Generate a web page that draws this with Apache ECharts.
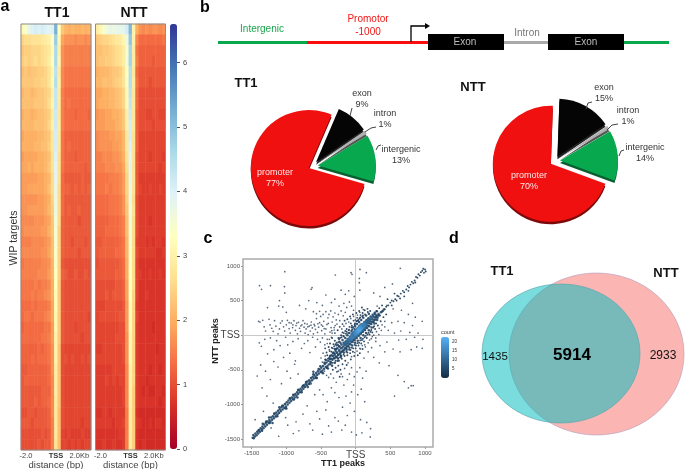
<!DOCTYPE html>
<html>
<head>
<meta charset="utf-8">
<style>html,body{margin:0;padding:0;background:#fff}#main{width:685px;height:469px}</style>
<script src="https://cdn.jsdelivr.net/npm/echarts@6/dist/echarts.min.js"></script>
</head>
<body>
<div id="main"></div>
<script>
// panel a: signal per row (top to bottom) and per 200bp bin (-2kb .. +2kb)
const tt1Rows = [
[3.2,3.4,3.8,4.0,4.1,4.0,4.1,4.0,3.9,4.0,5.2,3.3,2.3,2.1,2.0,2.1,2.0,2.0,2.1,2.0,2.1],
[2.5,2.6,2.6,2.7,2.7,2.7,2.8,2.9,3.0,3.4,4.8,3.1,1.9,1.7,1.7,1.7,1.6,1.7,1.7,1.6,1.7],
[2.3,2.4,2.4,2.5,2.5,2.5,2.6,2.7,2.8,3.2,4.6,3.0,1.7,1.5,1.5,1.5,1.5,1.5,1.5,1.5,1.5],
[2.4,2.5,2.4,2.5,2.6,2.5,2.6,2.7,2.9,3.3,4.6,3.1,1.7,1.5,1.5,1.5,1.5,1.5,1.5,1.5,1.5],
[2.2,2.3,2.2,2.3,2.3,2.4,2.4,2.5,2.7,3.1,4.4,2.9,1.6,1.4,1.4,1.4,1.4,1.4,1.4,1.4,1.4],
[2.3,2.3,2.3,2.3,2.4,2.4,2.5,2.5,2.7,3.2,4.5,3.0,1.6,1.4,1.4,1.4,1.4,1.4,1.4,1.4,1.4],
[2.1,2.2,2.2,2.1,2.2,2.3,2.3,2.4,2.5,3.0,4.3,2.9,1.5,1.3,1.3,1.3,1.3,1.3,1.3,1.3,1.3],
[2.2,2.2,2.2,2.2,2.3,2.3,2.3,2.4,2.6,3.1,4.3,2.9,1.5,1.3,1.4,1.3,1.3,1.3,1.3,1.3,1.3],
[2.0,2.1,2.1,2.0,2.1,2.2,2.2,2.3,2.4,2.9,4.2,2.8,1.5,1.3,1.3,1.3,1.2,1.3,1.3,1.3,1.2],
[2.1,2.1,2.1,2.1,2.2,2.2,2.2,2.3,2.5,3.0,4.2,2.9,1.5,1.3,1.3,1.3,1.3,1.3,1.3,1.3,1.3],
[1.9,2.0,2.0,2.0,2.0,2.1,2.1,2.2,2.3,2.8,4.1,2.8,1.4,1.2,1.2,1.2,1.2,1.2,1.2,1.2,1.2],
[2.0,2.0,2.0,2.0,2.1,2.1,2.2,2.2,2.4,2.8,4.1,2.8,1.4,1.2,1.3,1.2,1.2,1.2,1.2,1.2,1.2],
[1.8,1.9,1.9,1.9,1.9,2.0,2.0,2.1,2.2,2.7,4.0,2.7,1.4,1.2,1.2,1.2,1.1,1.2,1.2,1.2,1.2],
[1.9,1.9,2.0,1.9,2.0,2.0,2.0,2.1,2.3,2.7,3.9,2.7,1.4,1.2,1.2,1.2,1.2,1.2,1.2,1.1,1.2],
[1.8,1.8,1.8,1.8,1.8,1.9,1.9,2.0,2.1,2.6,3.9,2.7,1.3,1.1,1.1,1.1,1.1,1.1,1.2,1.1,1.1],
[1.8,1.8,1.9,1.9,1.9,1.9,1.9,2.0,2.2,2.6,3.8,2.6,1.3,1.2,1.2,1.1,1.2,1.1,1.2,1.1,1.2],
[1.7,1.7,1.7,1.7,1.7,1.8,1.8,1.9,2.0,2.5,3.7,2.6,1.3,1.1,1.1,1.1,1.1,1.1,1.1,1.1,1.1],
[1.7,1.7,1.8,1.8,1.8,1.8,1.8,1.9,2.1,2.4,3.7,2.6,1.3,1.1,1.2,1.1,1.1,1.2,1.1,1.1,1.1],
[1.6,1.6,1.6,1.6,1.7,1.7,1.7,1.8,1.9,2.3,3.6,2.6,1.2,1.1,1.1,1.1,1.1,1.0,1.1,1.1,1.1],
[1.6,1.7,1.7,1.7,1.7,1.7,1.8,1.8,2.0,2.3,3.5,2.5,1.2,1.1,1.1,1.1,1.1,1.1,1.1,1.1,1.1],
[1.5,1.5,1.5,1.6,1.6,1.6,1.6,1.7,1.8,2.2,3.5,2.5,1.2,1.1,1.1,1.0,1.1,1.1,1.1,1.0,1.1],
[1.6,1.6,1.6,1.6,1.6,1.6,1.7,1.7,1.9,2.2,3.4,2.5,1.2,1.1,1.1,1.1,1.1,1.0,1.1,1.1,1.1],
[1.4,1.5,1.5,1.5,1.5,1.5,1.6,1.6,1.7,2.1,3.4,2.5,1.1,1.0,1.0,1.0,1.0,1.0,1.0,1.0,1.0],
[1.5,1.5,1.5,1.5,1.5,1.6,1.6,1.6,1.8,2.1,3.3,2.5,1.2,1.1,1.0,1.0,1.1,1.0,1.0,1.1,1.0],
[1.4,1.4,1.4,1.4,1.5,1.4,1.5,1.5,1.6,2.0,3.3,2.4,1.1,1.0,1.0,1.0,1.0,1.0,1.0,1.0,1.0],
[1.4,1.4,1.4,1.5,1.4,1.5,1.5,1.6,1.7,2.0,3.2,2.4,1.1,1.0,1.0,1.0,1.0,1.0,1.0,1.0,1.0],
[1.3,1.3,1.3,1.4,1.3,1.4,1.4,1.4,1.5,1.9,3.2,2.4,1.1,1.0,1.0,1.0,1.0,1.0,1.0,1.0,1.0],
[1.3,1.4,1.4,1.3,1.4,1.4,1.4,1.5,1.6,1.9,3.1,2.4,1.1,1.0,1.0,1.0,1.0,1.0,1.0,1.0,0.9],
[1.2,1.3,1.3,1.3,1.3,1.3,1.3,1.4,1.4,1.8,3.1,2.4,1.1,1.0,1.0,1.0,0.9,1.0,1.0,1.0,1.0],
[1.3,1.3,1.3,1.3,1.3,1.3,1.4,1.4,1.5,1.8,3.0,2.4,1.1,1.0,1.0,1.0,1.0,1.0,0.9,1.0,1.0],
[1.2,1.2,1.2,1.2,1.2,1.3,1.2,1.3,1.4,1.7,3.0,2.3,1.0,0.9,0.9,0.9,0.9,0.9,0.9,0.9,0.9],
[1.2,1.2,1.2,1.3,1.2,1.3,1.3,1.3,1.4,1.7,3.0,2.3,1.0,1.0,0.9,1.0,0.9,0.9,1.0,0.9,1.0],
[1.1,1.1,1.2,1.2,1.2,1.2,1.2,1.2,1.3,1.7,2.9,2.3,1.0,0.9,0.9,0.9,0.9,0.9,0.9,0.9,0.9],
[1.1,1.2,1.2,1.2,1.2,1.2,1.2,1.2,1.3,1.6,2.9,2.3,1.0,0.9,0.9,0.9,0.9,0.9,0.9,0.9,0.9],
[1.1,1.1,1.1,1.1,1.1,1.1,1.2,1.2,1.2,1.6,2.9,2.3,1.0,0.9,0.9,0.9,0.9,0.9,0.9,0.9,0.9],
[1.1,1.1,1.1,1.1,1.2,1.1,1.2,1.2,1.3,1.6,2.8,2.3,1.0,0.9,0.9,0.9,0.9,0.9,0.9,0.9,0.9],
[1.0,1.0,1.1,1.1,1.0,1.1,1.1,1.1,1.2,1.6,2.8,2.2,1.0,0.9,0.9,0.9,0.9,0.9,0.9,0.9,0.9],
[1.1,1.1,1.1,1.0,1.1,1.1,1.1,1.1,1.2,1.5,2.8,2.2,1.0,0.9,0.9,0.9,0.9,0.9,0.8,0.9,0.9],
[1.0,1.0,1.0,1.0,1.0,1.0,1.1,1.0,1.1,1.5,2.8,2.2,0.9,0.8,0.9,0.8,0.8,0.8,0.9,0.8,0.8],
[1.0,1.0,1.0,1.0,1.0,1.1,1.0,1.1,1.1,1.5,2.7,2.2,0.9,0.9,0.8,0.9,0.8,0.9,0.8,0.9,0.9]
];
const nttRows = [
[2.9,3.1,3.4,3.6,3.8,3.7,3.8,3.8,3.9,4.1,5.1,3.0,2.0,1.7,1.6,1.7,1.6,1.7,1.7,1.6,1.7],
[2.3,2.4,2.5,2.5,2.6,2.7,2.8,2.9,3.1,3.7,4.9,3.0,1.6,1.3,1.3,1.3,1.3,1.3,1.3,1.3,1.4],
[2.2,2.2,2.3,2.3,2.4,2.5,2.6,2.7,2.9,3.5,4.7,2.9,1.4,1.2,1.2,1.2,1.2,1.2,1.2,1.2,1.2],
[2.2,2.3,2.3,2.4,2.4,2.5,2.6,2.7,2.9,3.6,4.7,2.9,1.5,1.2,1.2,1.2,1.2,1.1,1.2,1.2,1.2],
[2.0,2.1,2.1,2.1,2.2,2.3,2.3,2.4,2.7,3.3,4.5,2.8,1.3,1.1,1.1,1.1,1.1,1.1,1.1,1.1,1.1],
[2.1,2.1,2.2,2.2,2.2,2.3,2.4,2.5,2.7,3.4,4.5,2.9,1.4,1.1,1.1,1.1,1.0,1.1,1.1,1.1,1.1],
[1.9,1.9,2.0,2.0,2.1,2.1,2.2,2.3,2.5,3.2,4.4,2.8,1.3,1.0,1.0,1.0,1.0,1.0,1.0,1.0,1.0],
[1.9,2.0,2.0,2.0,2.1,2.1,2.2,2.3,2.5,3.2,4.3,2.8,1.3,1.0,1.0,1.0,1.0,1.0,1.0,1.0,1.0],
[1.7,1.8,1.8,1.9,1.9,2.0,2.0,2.1,2.3,3.0,4.2,2.8,1.2,1.0,1.0,0.9,0.9,1.0,1.0,0.9,0.9],
[1.8,1.8,1.8,1.9,1.9,1.9,2.0,2.1,2.3,3.0,4.1,2.8,1.2,1.0,1.0,1.0,1.0,0.9,1.0,1.0,1.0],
[1.6,1.7,1.7,1.7,1.8,1.8,1.9,1.9,2.1,2.8,4.1,2.7,1.2,0.9,0.9,0.9,0.9,0.9,0.9,0.9,0.9],
[1.6,1.7,1.7,1.7,1.7,1.8,1.8,1.9,2.1,2.8,4.0,2.7,1.2,0.9,0.9,0.9,0.9,0.9,0.9,0.9,0.9],
[1.5,1.5,1.6,1.6,1.6,1.7,1.7,1.8,2.0,2.7,3.9,2.7,1.1,0.9,0.9,0.9,0.8,0.9,0.9,0.9,0.8],
[1.5,1.5,1.5,1.6,1.6,1.6,1.7,1.7,1.9,2.6,3.9,2.7,1.1,0.9,0.9,0.9,0.9,0.9,0.9,0.8,0.9],
[1.4,1.4,1.4,1.4,1.5,1.5,1.5,1.6,1.8,2.5,3.8,2.7,1.1,0.8,0.8,0.8,0.8,0.8,0.8,0.8,0.8],
[1.4,1.4,1.4,1.5,1.4,1.5,1.5,1.6,1.8,2.5,3.7,2.7,1.1,0.9,0.8,0.8,0.9,0.8,0.8,0.9,0.8],
[1.3,1.3,1.3,1.3,1.4,1.4,1.4,1.5,1.7,2.4,3.7,2.6,1.0,0.8,0.8,0.8,0.8,0.8,0.8,0.8,0.8],
[1.3,1.3,1.3,1.3,1.4,1.4,1.4,1.5,1.7,2.3,3.6,2.7,1.0,0.8,0.8,0.8,0.8,0.8,0.8,0.8,0.8],
[1.2,1.2,1.2,1.2,1.3,1.3,1.3,1.4,1.5,2.2,3.6,2.6,1.0,0.8,0.8,0.8,0.7,0.8,0.8,0.8,0.8],
[1.2,1.2,1.2,1.3,1.3,1.3,1.3,1.4,1.5,2.2,3.5,2.6,1.0,0.8,0.8,0.8,0.8,0.8,0.8,0.8,0.8],
[1.1,1.1,1.2,1.2,1.2,1.2,1.2,1.3,1.4,2.1,3.5,2.6,0.9,0.8,0.8,0.7,0.8,0.7,0.8,0.8,0.7],
[1.1,1.2,1.2,1.2,1.2,1.2,1.3,1.3,1.4,2.1,3.4,2.6,1.0,0.8,0.8,0.8,0.8,0.8,0.7,0.7,0.8],
[1.0,1.1,1.1,1.1,1.1,1.1,1.1,1.2,1.3,2.0,3.4,2.6,0.9,0.7,0.7,0.7,0.7,0.7,0.7,0.7,0.7],
[1.1,1.1,1.1,1.1,1.1,1.1,1.2,1.2,1.3,2.0,3.3,2.6,0.9,0.8,0.7,0.7,0.8,0.7,0.7,0.8,0.7],
[1.0,1.0,1.0,1.0,1.0,1.0,1.1,1.1,1.2,1.9,3.3,2.6,0.9,0.7,0.7,0.7,0.7,0.7,0.7,0.7,0.7],
[1.0,1.0,1.0,1.1,1.0,1.1,1.1,1.1,1.2,1.9,3.3,2.5,0.9,0.7,0.7,0.8,0.7,0.7,0.7,0.7,0.7],
[0.9,0.9,0.9,1.0,1.0,1.0,1.0,1.0,1.1,1.8,3.2,2.5,0.8,0.7,0.7,0.7,0.7,0.7,0.7,0.7,0.7],
[0.9,1.0,1.0,1.0,1.0,1.0,1.0,1.1,1.1,1.8,3.2,2.5,0.9,0.7,0.7,0.7,0.7,0.7,0.7,0.7,0.7],
[0.9,0.9,0.9,0.9,0.9,0.9,0.9,1.0,1.0,1.8,3.2,2.5,0.8,0.7,0.7,0.7,0.7,0.6,0.7,0.7,0.7],
[0.9,0.9,0.9,0.9,0.9,0.9,1.0,1.0,1.0,1.7,3.1,2.5,0.8,0.7,0.7,0.7,0.7,0.7,0.7,0.7,0.7],
[0.8,0.8,0.9,0.9,0.9,0.9,0.9,0.9,1.0,1.7,3.1,2.5,0.8,0.7,0.7,0.7,0.7,0.7,0.6,0.7,0.7],
[0.9,0.9,0.9,0.9,0.9,0.9,0.9,0.9,1.0,1.7,3.1,2.5,0.8,0.7,0.7,0.7,0.7,0.7,0.7,0.7,0.7],
[0.8,0.8,0.8,0.8,0.8,0.9,0.9,0.9,0.9,1.6,3.0,2.5,0.8,0.7,0.7,0.7,0.6,0.7,0.7,0.6,0.7],
[0.8,0.8,0.8,0.9,0.8,0.9,0.8,0.9,0.9,1.6,3.0,2.5,0.8,0.7,0.7,0.6,0.7,0.7,0.7,0.7,0.7],
[0.8,0.8,0.8,0.8,0.8,0.8,0.8,0.8,0.9,1.6,3.0,2.4,0.8,0.7,0.6,0.7,0.6,0.6,0.7,0.7,0.6],
[0.8,0.8,0.8,0.8,0.8,0.8,0.8,0.8,0.9,1.6,3.0,2.4,0.8,0.7,0.7,0.7,0.7,0.7,0.7,0.6,0.7],
[0.7,0.7,0.8,0.8,0.7,0.8,0.8,0.8,0.8,1.5,2.9,2.4,0.7,0.6,0.6,0.6,0.6,0.6,0.6,0.6,0.6],
[0.8,0.8,0.8,0.8,0.8,0.7,0.8,0.8,0.9,1.5,2.9,2.4,0.8,0.7,0.6,0.6,0.7,0.6,0.7,0.7,0.6],
[0.7,0.7,0.7,0.7,0.7,0.7,0.7,0.8,0.8,1.5,2.9,2.4,0.7,0.6,0.6,0.6,0.6,0.6,0.6,0.6,0.6],
[0.7,0.7,0.8,0.7,0.7,0.8,0.7,0.7,0.8,1.5,2.9,2.4,0.7,0.6,0.7,0.6,0.6,0.6,0.6,0.6,0.6]
];
const distLabels = ['', '-2.0', '', '', '', '', '', '', '', '', 'TSS', '', '', '', '', '', '', '2.0Kb', '', '', ''];
const barTicks = [0, 1, 2, 3, 4, 5, 6];

// panel b: region shares in percent
const regionNames = ['promoter', 'exon', 'intron', 'intergenic'];
const tt1Share = [77, 9, 1, 13];
const nttShare = [70, 15, 1, 14];
const regionColors = ['#f01010', '#050505', '#b0b0b0', '#08a84e'];
const regionDepth = ['#7c0a0a', '#222222', '#555555', '#0a5f30'];

// panel c: peak positions [TT1, NTT]
const sparsePeaks = [
[-1022,917],[-1387,715],[-1229,715],[-1358,662],[-1027,700],[-1022,610],[-293,869],[-67,902],[-53,878],[62,950],[154,902],[53,820],[53,758],[643,965],[-629,686],[-643,662],[-677,499],[-1099,499],[-1272,398],[-1051,408],[-1110,420],[-1000,330],
[-1400,200],[-1380,190],[-1340,215],[-1320,120],[-1300,60],[-1250,230],[-1235,150],[-1210,100],[-1190,55],[-1170,210],[-1150,130],[-1120,20],[-1100,90],[-1085,175],[-1060,205],[-1040,120],[-1025,60],[-1000,150],[-985,215],[-960,95],[-945,30],[-930,175],[-910,110],[-890,210],[-870,70],[-860,140],[-840,20],[-825,185],[-810,100],[-795,55],[-775,150],[-760,210],[-745,115],[-730,30],[-715,90],[-700,160],[-685,10],[-670,130],[-655,60],[-640,190],[-625,105],[-610,20],[-600,155],[-580,85],[-565,240],[-550,40],[-535,115],[-520,180],[-505,270],[-490,65],[-475,130],[-460,200],[-445,20],[-430,90],[-415,155],[-400,250],[-385,300],[-370,45],[-355,110],[-340,190],[-325,265],[-310,75],[-295,140],[-280,220],
[-960,180],[-905,150],[-850,175],[-790,135],[-735,170],[-690,120],[-645,145],[-590,135],[-545,165],[-495,150],[-455,95],[-395,170],[-345,65],[-565,310],[-610,340],[-520,345],[-470,300],[-430,340],[-360,350],[-300,320],[-250,300],[-210,350],[-180,280],[-150,330],[-240,420],[-170,460],[-130,400],[-90,480],[-60,420],[-30,360],[-430,580],[-300,520],[-150,590],[-210,650],[-100,640],[-20,560],[60,650],[-350,470],[-480,430],[-560,470],[-720,380],[-810,430],
[-1390,-110],[-1360,-160],[-1310,-60],[-1270,-270],[-1230,-40],[-1180,-210],[-1140,-80],[-1090,-150],[-1040,-320],[-1010,-30],[-980,-140],[-950,-260],[-905,-90],[-870,-370],[-830,-50],[-780,-190],[-740,-120],[-690,-80],[-660,-250],[-620,-30],[-580,-170],[-550,-60],[-510,-100],[-480,-40],[-445,-140],[-410,-60],[-380,-210],[-350,-30],
[-1420,-590],[-1370,-430],[-1350,-760],[-1300,-520],[-1280,-880],[-1230,-640],[-1190,-980],[-1180,-380],[-1120,-460],[-1070,-700],[-990,-520],[-940,-620],[-880,-420],[-830,-560],[-1450,-1220],[-1330,-1100],[-1220,-1340],[-1150,-1180],[-1110,-1460],[-1010,-1190],[-980,-1300],[-900,-1420],[-860,-1250],[-820,-1380],[-760,-1140],[-700,-1020],[-660,-1280],[-620,-1370],[-560,-1100],[-520,-1210],[-480,-1430],[-430,-1080],[-390,-1310],[-350,-1400],[-300,-1190],[-250,-1240],[-200,-1370],[-150,-1300],[-120,-1160],[-60,-1400],[10,-1440],[90,-1410],[210,-1470],[215,-1350],[160,-1260],[70,-1220],[-20,-1100],[-80,-980],[-140,-880],[-190,-1040],[-240,-900],[-300,-830],[-350,-760],[-410,-960],[-470,-860],[-520,-790],[-590,-860],[-640,-700],[-30,-720],[-60,-820],[30,-860],[80,-780],[130,-960],[-20,-600],[20,-530],[60,-470],[100,-620],[150,-520],[-90,-560],[-60,-470],[-120,-640],[-170,-720],[-190,-600],
[700,-670],[610,-580],[760,-760],[800,-730],[830,-730],[560,-880],[480,-440],[420,-240],[540,-200],[640,-240],[800,-210],[880,-170],[350,-150],[290,-90],[450,-100],[620,-70],[730,-60],[850,-30],[960,-190],[970,-60],[900,30],[780,40],[650,60],[560,30],[470,70],[420,120],[520,180],[610,200],[700,180],[820,140],[960,200],[860,260],[760,300],[660,360],[820,460],[390,350],[450,430],[540,380],[310,420],[350,560],[260,610],[420,690],[530,740],[230,-180],[180,-240],[260,-320],[340,-400],[120,-330],[70,-200],[130,-140],[200,-70],[240,-20],
[-500,-330],[-470,-260],[-440,-300],[-410,-120],[-380,-60],[-340,30],[-310,110],[-270,160],[-230,210],[-200,90],[-170,130],[-140,170],[-100,190],[-70,240],[-30,270],[-5,220],[25,290],[60,330],[110,370],[-480,-390],[-450,-520],[-420,-580],[-390,-610],[-360,-560],[-320,-620],[-280,-680],[-250,-520],[-210,-560],[-160,-480],[-110,-400],[-60,-310],[-15,-250],[20,-230],[60,-190],[95,-150],[140,-170],[180,-110],[225,-50],[260,0],[300,50],[340,100],[380,150],[420,200],[370,70],[335,10],[290,-40]
];
const ridgePeaks = [
[-1485,-1480],[-1470,-1490],[-1475,-1440],[-1455,-1465],[-1445,-1420],[-1430,-1445],[-1420,-1395],[-1405,-1420],[-1395,-1370],[-1380,-1395],[-1370,-1345],[-1355,-1365],[-1345,-1320],[-1330,-1345],[-1320,-1290],[-1305,-1320],[-1295,-1265],[-1280,-1295],[-1270,-1245],[-1255,-1270],[-1245,-1225],[-1230,-1245],[-1220,-1190],[-1205,-1220],[-1195,-1170],[-1180,-1200],[-1170,-1140],[-1155,-1170],[-1145,-1115],[-1130,-1145],[-1120,-1090],[-1105,-1125],[-1095,-1070],[-1080,-1100],[-1070,-1040],[-1055,-1075],[-1045,-1020],[-1030,-1050],[-1020,-995],[-1005,-1030],[-995,-970],[-980,-1000],[-970,-945],[-955,-975],[-945,-920],[-930,-950],[-920,-900],[-905,-925],[-895,-870],[-880,-900],[-870,-850],[-855,-875],[-845,-825],[-830,-850],[-820,-795],[-805,-825],[-795,-775],[-780,-800],[-770,-750],[-755,-775],[-745,-725],[-730,-750],[-720,-700],[-705,-725],[-695,-670],[-680,-700],[-670,-650],[-655,-675],[-645,-620],[-630,-650],[-620,-600],[-605,-625],[-595,-575],[-580,-600],[-570,-545],[-555,-575],[-545,-520],[-530,-555],[-520,-495],[-505,-530],[-495,-470],[-480,-510],[-470,-445],[-455,-485],[-445,-415],[-430,-460],[-420,-395],[-405,-440],[-395,-370],[-380,-420],[-370,-345],[-355,-395],
[-1100,-1040],[-1000,-1060],[-900,-860],[-840,-900],[-760,-730],[-690,-750],[-1250,-1190],[-1340,-1280],[-1200,-1270],[-610,-530],[-560,-620],[-510,-450],[-470,-550],[-430,-360],[-400,-480],[-370,-300],[-340,-440],[-320,-250],[-300,-400],[-280,-200],[-260,-370],[-240,-160],[-220,-320],
[-350,-340],[-330,-300],[-315,-335],[-300,-270],[-285,-310],[-270,-250],[-255,-285],[-240,-225],[-225,-265],[-210,-190],[-195,-235],[-180,-165],[-165,-210],[-150,-140],[-135,-185],[-120,-110],[-105,-155],[-90,-85],[-75,-130],[-60,-50],[-45,-100],[-30,-25],[-15,-70],[0,10],[15,-40],[30,35],[45,-10],[60,70],[75,20],[90,95],[105,50],[120,125],[135,75],[150,150],[165,105],[180,175],[195,130],[210,200],[225,160],[240,230],[255,190],[270,255],[285,225],[300,280],[315,250],[330,305],[345,285],[365,330],[385,345],[405,370],
[-300,-200],[-260,-140],[-220,-110],[-190,-70],[-150,-40],[-120,0],[-90,30],[-60,60],[-40,110],[-10,130],[20,160],[50,190],[80,220],[110,250],[150,285],[190,310],[-260,-330],[-210,-300],[-170,-250],[-130,-210],[-90,-180],[-50,-150],[-10,-110],[30,-80],[70,-40],[110,0],[150,30],[190,70],[230,110],[270,170],[310,220],
[-380,-330],[-350,-290],[-325,-260],[-290,-225],[-265,-190],[-235,-165],[-205,-135],[-175,-110],[-145,-90],[-115,-55],[-85,-25],[-55,0],[-25,35],[5,65],[35,95],[65,125],[95,155],[125,190],[155,215],[185,245],[215,270],[245,295],[275,325],[305,345],
[-365,-385],[-335,-355],[-305,-335],[-275,-310],[-245,-280],[-215,-245],[-185,-220],[-155,-190],[-125,-160],[-95,-125],[-65,-95],[-35,-70],[-5,-35],[25,-5],[55,25],[85,45],[115,85],[145,110],[175,140],[205,170],[235,195],[265,215],[295,260],[325,285],
[-1400,-1375],[-1350,-1380],[-1290,-1245],[-1240,-1270],[-1175,-1130],[-1130,-1170],[-1060,-1020],[-1010,-1055],[-950,-910],[-890,-930],[-830,-790],[-780,-825],[-715,-675],[-665,-705],[-610,-565],[-575,-620],[-535,-490],[-490,-535],[-450,-400],[-415,-470]
];
const halfPeaks = [
[-420,-250],[-440,-190],[-390,-170],[-370,-120],[-350,-240],[-320,-130],[-300,-80],[-280,-150],[-250,-40],[-235,-90],[-210,0],[-190,40],[-170,-20],[-150,60],[-130,90],[-110,30],[-90,120],[-70,170],[-50,80],[-30,210],[-10,170],[20,250],[40,220],[70,290],[100,320],[130,360],[170,380],[210,350],[-400,-340],[-360,-420],[-330,-500],[-290,-470],[-250,-440],[-220,-500],[-190,-420],[-150,-370],[-120,-290],[-80,-260],[-40,-240],[0,-190],[40,-150],[80,-120],[120,-90],[160,-40],[200,10],[240,40],[280,90],[320,140],[360,200],[400,260],[440,300],[-270,-530],[-230,-600],[-130,-430],[-70,-350],[-20,-300],[30,-290],[60,-260],[100,-200],[-340,-40],[-300,30],[-260,70],[-230,120],[-190,160],[-160,210],[-120,230],[-80,270],[-40,300],[10,320],[50,350],[90,400],
[420,375],[440,410],[470,430],[500,470],[520,500],[545,490],[570,520],[600,570],[620,560],[650,600],[680,640],[700,620],[730,660],[750,710],[770,690],[790,730],[810,770],[830,750],[850,790],[870,840],[890,830],[905,880],[925,860],[940,910],[960,930],[975,960],[985,900],[1000,950],[1010,920],[520,430],[590,500],[640,530],[700,560],[560,600],[760,640],[860,760],[460,520],[380,430],[340,390],[300,350],[270,310],
[-330,-190],[-290,-130],[-250,-100],[-225,-40],[-180,-10],[-140,20],[-100,70],[-60,110],[-20,90],[15,200],[55,240],[95,270],[135,300],[175,335],[-240,-370],[-200,-340],[-160,-300],[-120,-250],[-75,-215],[-35,-190],[5,-150],[50,-110],[90,-70],[130,-30],[170,10],[215,50],[255,110],[295,170],
[-440,-350],[-410,-290],[-375,-230],[-345,-180],[-310,-160],[-275,-110],[-240,-60],[-205,-30],[-170,30],[-130,50],[-95,80],[-55,135],[-15,150],[25,210],[65,255],[105,285],[-330,-400],[-290,-370],[-250,-340],[-215,-290],[-175,-280],[-135,-240],[-95,-210],[-55,-180],[-15,-140],[25,-115],[65,-75],[105,-50],[145,-10],[185,35],[225,75],[265,130]
];
const corePeaks = [
[-150,-130,9],[-125,-105,10],[-100,-75,11],[-80,-60,12],[-200,-180,7],[-235,-215,7],[-270,-255,6],[205,235,7],[230,255,7],[255,275,6],[285,300,6],[-305,-290,6],
[-40,10,9],[-15,35,10],[10,60,11],[35,85,11],[60,115,10],[85,140,9],[-20,-25,9],[5,5,10],[30,25,11],[55,50,10],[80,75,9],[105,95,9],[130,130,9],
[-55,-30,14],[-35,-15,15],[-15,10,16],[5,30,18],[25,50,20],[45,70,22],[65,95,22],[85,115,20],[105,135,18],[125,155,15],[145,175,12],[165,195,10],[185,215,9],
[-30,0,13],[-5,20,15],[15,40,17],[35,60,19],[55,80,21],[75,105,19],[95,125,17],[115,145,14]
];
const tickValues = [-1500, -1000, -500, 0, 500, 1000];

// panel d: venn counts
const vennCounts = [1435, 5914, 2933];

const font = 'Liberation Sans, Arial, sans-serif';

function heatData(rows) {
    const out = [];
    rows.forEach((row, r) => row.forEach((v, c) => out.push([c, rows.length - 1 - r, v])));
    return out;
}
const rowIds = tt1Rows.map((_, i) => String(i));
const binIds = distLabels.map((_, i) => String(i));
const denseData = halfPeaks.map(p => [p[0], p[1], 2])
    .concat(ridgePeaks.map(p => [p[0], p[1], 4]))
    .concat(corePeaks);
const faintData = sparsePeaks.map(p => [p[0], p[1], 1]);

function heatX(gridIndex) {
    return {
        type: 'category', gridIndex, data: binIds, position: 'bottom',
        axisLine: { show: false, onZero: false }, axisTick: { show: false }, splitLine: { show: false },
        axisLabel: {
            interval: 0, margin: 2, color: '#444', fontSize: 7.5, fontFamily: font,
            formatter: (v, i) => distLabels[i] === 'TSS' ? '{b|TSS}' : distLabels[i],
            rich: { b: { fontWeight: 'bold', fontSize: 7.5, color: '#333', fontFamily: font } }
        },
        name: 'distance (bp)', nameLocation: 'middle', nameGap: 10, nameMoveOverlap: false,
        nameTextStyle: { color: '#444', fontSize: 9.5, fontFamily: font }
    };
}
function heatY(gridIndex) {
    return { type: 'category', gridIndex, data: rowIds, show: false };
}
function pieSeries(values, center, offset, startAngle, colors, isDepth) {
    return {
        type: 'pie', center, radius: 58, startAngle, clockwise: true, sort: null,
        selectedMode: 'multiple', selectedOffset: offset, silent: true,
        label: { show: false }, labelLine: { show: false },
        data: values.map((v, i) => ({
            name: regionNames[i], value: v, selected: true,
            itemStyle: { color: colors[i] }
        })),
        z: isDepth ? 1 : 2
    };
}
function txt(x, y, text, size, color, weight, rotation) {
    return {
        type: 'text', x, y, z: 20, rotation: rotation || 0,
        style: {
            text, fontSize: size, fill: color, fontWeight: weight || 'normal', fontFamily: font,
            align: 'center', verticalAlign: 'middle', lineHeight: size + 1.5
        }
    };
}
function lead(points) {
    return { type: 'polyline', z: 20, shape: { points }, style: { stroke: '#444', lineWidth: 1, fill: null } };
}
function seg(x1, x2, y, color) {
    return { type: 'line', z: 5, shape: { x1, y1: y, x2, y2: y }, style: { stroke: color, lineWidth: 3 } };
}
function frame(x, y, w, h) {
    return { type: 'rect', z: 10, shape: { x, y, width: w, height: h }, style: { fill: null, stroke: '#8c8c8c', lineWidth: 1 } };
}
function regionLabel(i, share, x, y) {
    return txt(x, y, regionNames[i] + '\n' + share[i] + '%', 9, i === 0 ? '#ffe8e8' : '#333');
}

const graphics = [
    txt(5, 7, 'a', 16, '#000', 'bold'), txt(205, 8, 'b', 16, '#000', 'bold'),
    txt(208, 239, 'c', 16, '#000', 'bold'), txt(454, 239, 'd', 16, '#000', 'bold'),
    txt(57, 13, 'TT1', 14, '#111', 'bold'), txt(134, 13, 'NTT', 14, '#111', 'bold'),
    txt(14, 238, 'WIP targets', 10.5, '#333', 'normal', Math.PI / 2),
    frame(21, 24, 70, 426), frame(95.5, 24, 70, 426),
    // gene model
    seg(218, 307, 42.5, '#0aa84e'), seg(307, 428, 42.5, '#fb0d0d'), seg(504, 548, 42.5, '#aaaaaa'), seg(624, 669, 42.5, '#0aa84e'),
    { type: 'rect', z: 6, shape: { x: 428, y: 34, width: 76, height: 16 }, style: { fill: '#000' } },
    { type: 'rect', z: 6, shape: { x: 548, y: 34, width: 76, height: 16 }, style: { fill: '#000' } },
    { type: 'polyline', z: 6, shape: { points: [[411, 42], [411, 26], [426, 26]] }, style: { stroke: '#000', lineWidth: 1.3, fill: null } },
    { type: 'polygon', z: 6, shape: { points: [[425, 23], [430, 26], [425, 29]] }, style: { fill: '#000' } },
    txt(262, 29, 'Intergenic', 10, '#1ba64d'), txt(368, 19, 'Promotor', 10, '#f01515'), txt(368, 32, '-1000', 10, '#f01515'),
    txt(527, 33, 'Intron', 10, '#777'), txt(465, 42, 'Exon', 10, '#bbb'), txt(586, 42, 'Exon', 10, '#bbb'),
    // pies
    txt(246, 83, 'TT1', 13, '#111', 'bold'), txt(473, 87, 'NTT', 13, '#111', 'bold'),
    regionLabel(0, tt1Share, 275, 178), regionLabel(1, tt1Share, 362, 99), regionLabel(2, tt1Share, 385, 119), regionLabel(3, tt1Share, 401, 155),
    lead([[352, 108], [350, 116]]), lead([[376, 127], [371, 128], [365, 132]]), lead([[381, 145], [378, 146], [376, 150]]),
    regionLabel(0, nttShare, 529, 181), regionLabel(1, nttShare, 604, 93), regionLabel(2, nttShare, 628, 116), regionLabel(3, nttShare, 645, 153),
    lead([[592, 102], [588, 103], [586, 109]]), lead([[618, 124], [612, 125], [607, 130]]), lead([[624, 150], [621, 151], [619, 156]]),
    // colour bar caption
    { type: 'text', x: 441, y: 332, z: 20, style: { text: 'count', fontSize: 5.5, fill: '#333', fontFamily: font, verticalAlign: 'middle' } },
    // venn
    { type: 'ellipse', z: 3, shape: { cx: 596.5, cy: 354, rx: 87.5, ry: 81 }, style: { fill: '#fbb6b3', stroke: '#b9a3bb', lineWidth: 0.7 } },
    { type: 'ellipse', z: 4, shape: { cx: 561, cy: 353.5, rx: 79, ry: 69.5 }, style: { fill: 'rgba(0,188,190,0.52)', stroke: '#5aa9b0', lineWidth: 0.7 } },
    txt(502, 271, 'TT1', 13, '#111', 'bold'), txt(666, 273, 'NTT', 13, '#111', 'bold'),
    txt(495, 357, String(vennCounts[0]), 11.5, '#111'), txt(572, 355, String(vennCounts[1]), 17, '#000', 'bold'), txt(663, 356, String(vennCounts[2]), 12, '#111')
];

const chart = echarts.init(document.getElementById('main'), null, { renderer: 'canvas' });
chart.setOption({
    animation: false,
    backgroundColor: '#fff',
    grid: [
        { left: 21, top: 24, width: 70, height: 426, outerBoundsMode: 'none' },
        { left: 95.5, top: 24, width: 70, height: 426, outerBoundsMode: 'none' },
        { left: 170, top: 24, width: 7, height: 425, outerBoundsMode: 'none' },
        { left: 243, top: 259, width: 190, height: 188, show: true, borderColor: '#aaa', borderWidth: 1.5, backgroundColor: '#fff', outerBoundsMode: 'none' },
        { left: 441, top: 337, width: 8, height: 41, outerBoundsMode: 'none' }
    ],
    xAxis: [
        heatX(0), heatX(1),
        { type: 'value', gridIndex: 2, show: false, min: 0, max: 1 },
        {
            type: 'value', gridIndex: 3, min: -1625, max: 1115,
            splitLine: { show: false }, axisLine: { show: false, onZero: false },
            axisTick: { show: true, length: 2, lineStyle: { color: '#999' }, customValues: tickValues },
            axisLabel: {
                customValues: tickValues, margin: 3, color: '#555', fontSize: 6, fontFamily: font,
                formatter: v => v === 0 ? '{t|TSS}' : String(v),
                rich: { t: { fontSize: 10, color: '#444', fontFamily: font } }
            },
            name: 'TT1 peaks', nameLocation: 'middle', nameGap: 12, nameMoveOverlap: false,
            nameTextStyle: { fontWeight: 'bold', fontSize: 9, color: '#222', fontFamily: font, padding: [0, 0, 0, 10] }
        },
        { type: 'value', gridIndex: 4, show: false, min: 0, max: 1 }
    ],
    yAxis: [
        heatY(0), heatY(1),
        {
            type: 'value', gridIndex: 2, position: 'right', min: 0, max: 6.6,
            splitLine: { show: false }, axisLine: { show: false, onZero: false },
            axisTick: { length: 3, lineStyle: { color: '#555' }, customValues: barTicks },
            axisLabel: { customValues: barTicks, margin: 6, color: '#444', fontSize: 7.5, fontFamily: font }
        },
        {
            type: 'value', gridIndex: 3, min: -1615, max: 1100,
            splitLine: { show: false }, axisLine: { show: false, onZero: false },
            axisTick: { show: true, length: 2, lineStyle: { color: '#999' }, customValues: tickValues },
            axisLabel: {
                customValues: tickValues, margin: 3, color: '#555', fontSize: 6, fontFamily: font,
                formatter: v => v === 0 ? '{t|TSS}' : String(v),
                rich: { t: { fontSize: 10, color: '#444', fontFamily: font } }
            },
            name: 'NTT peaks', nameLocation: 'middle', nameGap: 23, nameMoveOverlap: false,
            nameTextStyle: { fontWeight: 'bold', fontSize: 9, color: '#222', fontFamily: font, padding: [0, 0, 0, 24] }
        },
        {
            type: 'value', gridIndex: 4, position: 'right', min: 0, max: 22.8,
            splitLine: { show: false }, axisLine: { show: false, onZero: false },
            axisTick: { show: false, customValues: [5, 10, 15, 20] },
            axisLabel: { customValues: [5, 10, 15, 20], margin: 3, color: '#333', fontSize: 4.5, fontFamily: font }
        }
    ],
    visualMap: [
        {
            type: 'continuous', seriesIndex: [0, 1], min: 0, max: 6.6, left: 170, top: 24,
            itemWidth: 7, itemHeight: 425, padding: 0, calculable: false, show: true, text: null,
            inRange: { color: ['#a50026', '#d73027', '#f46d43', '#fdae61', '#fee090', '#ffffbf', '#e0f3f8', '#abd9e9', '#74add1', '#4575b4', '#313695'] }
        },
        {
            type: 'continuous', seriesIndex: [6, 7], dimension: 2, min: 0, max: 22.8, left: 441, top: 337,
            itemWidth: 8, itemHeight: 41, padding: 0, calculable: false, show: true, text: null,
            inRange: { color: ['#132B43', '#56B1F7'] }
        }
    ],
    series: [
        { type: 'heatmap', xAxisIndex: 0, yAxisIndex: 0, data: heatData(tt1Rows), silent: true },
        { type: 'heatmap', xAxisIndex: 1, yAxisIndex: 1, data: heatData(nttRows), silent: true },
        pieSeries(tt1Share, [313, 168.5], 4.7, -16, regionDepth, true),
        pieSeries(tt1Share, [313, 166], 4.7, -16, regionColors, false),
        pieSeries(nttShare, [555, 163.5], 5, -20, regionDepth, true),
        pieSeries(nttShare, [555, 161], 5, -20, regionColors, false),
        {
            type: 'scatter', xAxisIndex: 3, yAxisIndex: 3, data: faintData, silent: true, z: 3,
            symbolSize: 1.7, itemStyle: { opacity: 0.72 },
            markLine: {
                silent: true, symbol: 'none', z: 1, label: { show: false },
                lineStyle: { color: '#c8c8c8', width: 1, type: 'solid' },
                data: [{ xAxis: 0 }, { yAxis: 0 }]
            }
        },
        {
            type: 'scatter', xAxisIndex: 3, yAxisIndex: 3, data: denseData, silent: true, z: 4,
            symbolSize: v => v[2] >= 9 ? 4.8 : v[2] >= 4 ? 2.5 : 1.9,
            itemStyle: { opacity: 0.9 }
        }
    ],
    graphic: graphics
});
</script>
</body>
</html>
